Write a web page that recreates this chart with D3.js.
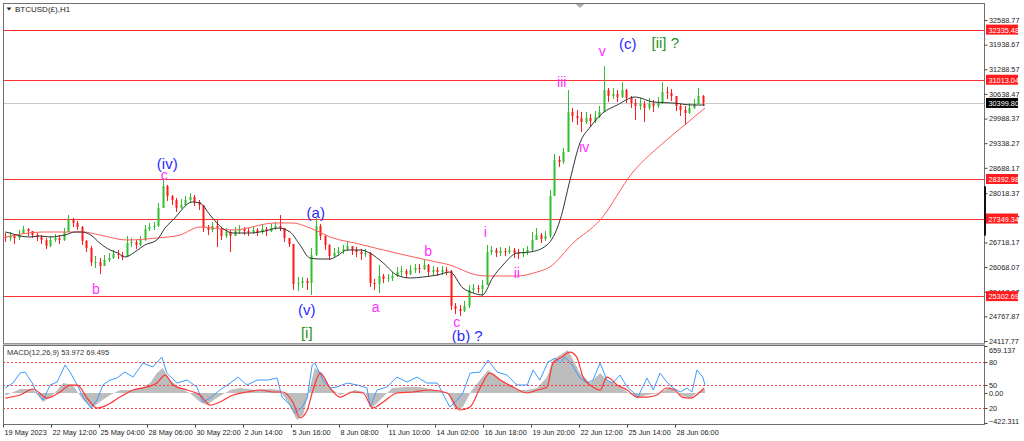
<!DOCTYPE html>
<html>
<head>
<meta charset="utf-8">
<script src="https://cdn.jsdelivr.net/npm/d3@7"></script>
<style>
  body { margin: 0; background: #fff; }
  svg { display: block; font-family: "Liberation Sans", Arial, sans-serif; }
</style>
</head>
<body>
<div id="chart"></div>
<script>
// 6-hour candles (open = previous close)
const closes = [
  26836, 26889, 26836, 26941, 27073, 27020, 26915, 26862, 26783, 26625,
  26783, 26836, 26783, 26994, 27311, 27232, 27126, 26757, 26572, 26202,
  26202, 26097, 26255, 26308, 26413, 26387, 26334, 26704, 26730, 26651,
  26783, 27073, 27126, 27152, 27627, 28208, 27944, 27839, 27627, 27707,
  27839, 27918, 27786, 27707, 27099, 27047, 27152, 27099, 26889, 26994,
  26889, 27020, 27073, 27020, 26994, 27047, 26994, 27073, 27020, 27099,
  27152, 27099, 26836, 26677, 25622, 25648, 25701, 25648, 26387, 27152,
  26889, 26651, 26360, 26440, 26493, 26545, 26625, 26519, 26466, 26413,
  26440, 25648, 25622, 25833, 25754, 25780, 25833, 25939, 25965, 25885,
  25991, 26044, 26018, 26123, 25939, 25991, 25939, 25991, 25965, 25041,
  24962, 24909, 25041, 25464, 25517, 25490, 25596, 26466, 26519, 26440,
  26493, 26466, 26519, 26440, 26413, 26466, 26519, 26783, 26915, 26810,
  26889, 27944, 28894, 28841, 29105, 30161, 30055, 30003, 29897, 30003,
  29923, 30029, 30161, 30742, 30583, 30636, 30557, 30742, 30530, 30398,
  30319, 30372, 30267, 30372, 30319, 30398, 30689, 30662, 30583, 30319,
  30214, 30135, 30267, 30372, 30583, 30400
];
const highs = [
  26968, 26994, 26941, 27047, 27152, 27099, 27020, 26968, 26915, 26836,
  26889, 26941, 26915, 27099, 27443, 27364, 27284, 27152, 26783, 26625,
  26360, 26308, 26387, 26440, 26519, 26519, 26466, 26889, 26836, 26783,
  26889, 27179, 27232, 27258, 27759, 28419, 28234, 27971, 27891, 27865,
  27944, 28023, 27971, 27839, 27707, 27179, 27258, 27311, 27099, 27099,
  27047, 27126, 27179, 27126, 27099, 27152, 27099, 27179, 27126, 27205,
  27258, 27443, 27099, 26836, 26677, 25806, 25806, 25780, 26572, 27364,
  27205, 26915, 26677, 26572, 26598, 26651, 26730, 26625, 26598, 26545,
  26545, 26466, 25754, 26123, 25885, 25885, 25939, 26070, 26097, 26018,
  26123, 26149, 26149, 26255, 26149, 26097, 26070, 26097, 26070, 25991,
  25120, 25067, 25173, 25596, 25622, 25596, 25727, 26651, 26625, 26572,
  26598, 26572, 26625, 26572, 26545, 26572, 26625, 26994, 27099, 26968,
  27020, 28102, 29052, 29000, 29211, 30742, 30266, 30214, 30161, 30161,
  30108, 30187, 30319, 31375, 30794, 30794, 30742, 30952, 30768, 30583,
  30504, 30530, 30451, 30530, 30478, 30557, 30952, 30821, 30768, 30583,
  30372, 30319, 30398, 30504, 30794, 30610
];
const lows = [
  26730, 26757, 26677, 26783, 26941, 26889, 26836, 26757, 26677, 26545,
  26598, 26730, 26677, 26757, 26994, 27126, 27047, 26651, 26466, 26097,
  26044, 25885, 26097, 26202, 26281, 26281, 26255, 26334, 26598, 26545,
  26625, 26757, 27020, 27047, 27126, 27627, 27812, 27707, 27522, 27601,
  27680, 27759, 27680, 27575, 26994, 26915, 26994, 26598, 26783, 26836,
  26466, 26889, 26941, 26915, 26889, 26941, 26889, 26941, 26889, 26994,
  27047, 27020, 26730, 26598, 25464, 25437, 25517, 25464, 25332, 26360,
  26783, 26519, 26255, 26308, 26360, 26413, 26493, 26387, 26334, 26255,
  26334, 25543, 25464, 25384, 25648, 25675, 25701, 25806, 25833, 25780,
  25859, 25912, 25912, 25991, 25833, 25859, 25833, 25859, 25859, 24936,
  24830, 24777, 24883, 24988, 25384, 25384, 25279, 25596, 26387, 26334,
  26360, 26360, 26413, 26308, 26281, 26334, 26387, 26466, 26783, 26704,
  26757, 26836, 27944, 28710, 28789, 29105, 29897, 29818, 29633, 29844,
  29765, 29871, 30003, 30161, 30425, 30504, 30425, 30530, 30398, 30267,
  29950, 30214, 29897, 30214, 30161, 30267, 30372, 30504, 30451, 30187,
  30055, 29818, 30108, 30240, 30425, 30319
];
const firstOpen = 26862;

// moving averages: [candle index, price]
const blackMA = [
  [0, 26994], [1, 26968], [3.3, 26889], [5.5, 26862], [7.7, 26889], [10, 26862], [12, 26889],
  [13.3, 26915], [15.5, 26994], [17, 26994], [19, 26915], [21, 26704], [23.3, 26519], [25, 26440],
  [26.6, 26334], [28.8, 26466], [31, 26651], [33.7, 26783], [35.5, 27099], [37.7, 27364],
  [38.8, 27522], [41.5, 27786], [43.3, 27759], [45.5, 27443], [48.2, 27099], [50.6, 26968],
  [54.4, 26968], [57.7, 27020], [60.6, 27099], [63.3, 26994], [65.5, 26651], [67.7, 26308],
  [70, 26281], [72.2, 26281], [73.7, 26360], [76, 26519], [79, 26519], [81, 26440], [84, 26176],
  [87, 25859], [90, 25780], [92.8, 25806], [96, 25859], [98.8, 25939], [101.7, 25517],
  [104, 25384], [106, 25332], [108.4, 25806], [110.6, 26123], [113.7, 26440], [116.6, 26466],
  [120.4, 26651], [123.3, 27311], [125.5, 28366], [127.7, 29343], [130, 29765], [132.8, 30135],
  [136, 30346], [140, 30557], [144, 30425], [148.4, 30398], [152.8, 30346], [155.5, 30346]
];
const redMA = [
  [0, 26862], [8.4, 26994], [17.3, 26994], [21, 26915], [27, 26783], [33.7, 26836], [38.8, 26915],
  [43.3, 27126], [50.6, 27047], [60, 27232], [63.7, 27232], [68.8, 27047], [72.8, 26836],
  [77.7, 26704], [84, 26519], [93.7, 26255], [98.8, 26123], [104.8, 25859], [107.7, 25833],
  [113.7, 25833], [118.2, 25939], [121, 26070], [126.2, 26704], [132.2, 27311], [139.5, 28577],
  [146.2, 29343], [151.5, 29871], [155.5, 30267]
];

// horizontal levels
const redLevels = [32335.48, 31013.04, 28392.98, 27349.34, 25302.69];
const bidPrice = 30399.80;
const priceTicks = [32588.77, 31938.67, 31288.57, 30638.47, 29988.37, 29338.27, 28688.17,
  28018.37, 27368.27, 26718.17, 26068.07, 25417.97, 24767.87, 24117.77];

// time axis: hours from first bar
const dateHours = [0, 64, 128, 192, 256, 320, 384, 448, 512, 576, 640, 704, 768, 832, 896];
const dateLabels = ['19 May 2023', '22 May 12:00', '25 May 04:00', '28 May 06:00', '30 May 22:00',
  '2 Jun 14:00', '5 Jun 16:00', '8 Jun 08:00', '11 Jun 10:00', '14 Jun 02:00', '16 Jun 18:00',
  '19 Jun 20:00', '22 Jun 12:00', '25 Jun 14:00', '28 Jun 06:00'];

// MACD panel: [candle index, value]
const macdHist = [
  [0, -40], [3.3, 55], [6.2, 55], [8.4, -128], [10.6, -30], [12.9, 139], [15, 111], [17.3, -100],
  [19.3, -212], [21, -128], [23.3, -30], [25.5, 41], [28.4, 41], [30.6, 83], [32.2, 139],
  [33.7, 279], [35, 350], [36.6, 181], [38.8, 69], [41, 0], [43.3, -128], [44.8, -170], [47, -72],
  [50, 41], [52.2, 69], [55.5, 41], [59, 55], [61, 41], [62.8, -128], [64.8, -380], [66.2, -310],
  [67.7, 83], [68.8, 350], [70.4, 279], [72.2, 69], [74.4, -30], [77.7, 41], [79.9, 13],
  [81.5, -212], [83.3, -100], [86, 69], [88.8, 83], [92.2, 83], [95.5, 41], [98.4, 0], [100, -240],
  [101.7, -198], [103.7, 41], [105.5, 181], [107.3, 322], [109.3, 209], [111.5, 139], [113.7, 41],
  [116, 41], [118.2, 69], [120.4, 223], [121.7, 462], [123.3, 532], [125, 602], [126.2, 462],
  [127.7, 279], [130, 139], [132.2, 279], [133.7, 181], [136, 111], [138.2, 13], [140.4, -72],
  [142.6, -30], [145.5, 0], [147.7, 83], [150, -30], [152.2, -72], [154, 13], [155.5, 54]
];
const macdSignal = [
  [0, -72], [3.3, -29], [6.2, 55], [9.3, -72], [12.2, 13], [14.4, 111], [16, 111], [18.2, -72],
  [20.4, -212], [22.6, -170], [25.5, -58], [28.4, 41], [31.5, 83], [33.7, 139], [35.5, 251],
  [37.3, 111], [40.4, 41], [43.3, -29], [45.5, -170], [47.7, -128], [50.6, -29], [53.7, 13],
  [56.6, 41], [59.5, 13], [61.7, 13], [64, -142], [65.5, -352], [67.1, -240], [68.4, 41],
  [70, 279], [72.2, 69], [74.4, -58], [77.3, 13], [79.5, -1], [81.7, -212], [84, -128], [87, -1],
  [90.6, 13], [94.4, 41], [98.2, -1], [101, -240], [103.3, -198], [105.5, 69], [107.7, 279],
  [110, 181], [112.8, 83], [116, -1], [118.2, 41], [120.4, 83], [121.7, 420], [123.7, 504],
  [125.5, 574], [127, 504], [128.4, 223], [130.6, 83], [132.2, 41], [133.7, 223], [136, 111],
  [138.2, 41], [140.4, -58], [142.6, -58], [144.8, -29], [147, 69], [148.8, 41], [150.4, -58],
  [152.2, -72], [154.4, 13], [155.3, 69]
];
const macdBlue = [
  [0, 69], [1.7, 139], [3.3, 279], [4.4, 293], [6, 139], [7, -1], [8.4, -100], [10, 111],
  [11.5, 153], [13.3, 392], [14.4, 293], [16, 111], [17.3, -58], [19, -212], [20.4, -100],
  [21.7, 111], [23.3, 181], [24.8, 209], [26.6, 293], [28.4, 223], [30.6, 420], [32.8, 364],
  [34.8, 504], [35.9, 279], [38.2, 139], [40.4, 181], [42.6, 83], [43.9, -128], [45.5, -72],
  [47.7, 41], [50, 139], [51.7, 223], [53.7, 111], [56, 181], [58.2, 181], [60.4, 209],
  [61.5, -58], [63.3, -170], [64.4, -282], [66, -198], [67.1, -72], [68.2, 392], [68.8, 420],
  [70.6, 181], [72.2, 69], [73.7, 83], [76, 139], [78.2, 111], [80.4, 69], [81.1, -198],
  [82.6, 41], [84.8, 83], [87, 223], [89.3, 153], [91.5, 223], [93.7, 139], [96, 139],
  [98.8, -198], [100.4, -100], [101.7, -1], [103.3, 279], [105.5, 293], [107.3, 462], [109.3, 293],
  [111.5, 251], [113.7, 111], [116, 111], [117.3, 322], [118.8, 181], [120.6, 434], [122.2, 490],
  [123.3, 420], [124.4, 504], [126, 392], [127.7, 209], [129.3, 139], [130.6, 181], [132.2, 420],
  [133.7, 181], [135, 139], [136.6, 251], [138.2, 83], [139.5, 13], [140.6, -58], [142.6, 209],
  [144, 41], [145.5, 279], [147, 153], [148.4, 69], [150, 13], [151.5, 69], [152.6, 13],
  [153.7, 322], [155, 223], [155.5, 111]
];
const macdLevels = [433, 111, -211];
const macdLevelLabels = ['80', '50', '20'];
const macdScaleTicks = [659.137, 0, -422.311];

// Elliott wave labels: [text, hour, price, kind]
const waveLabels = [
  ['(iv)', 219, 28815, 'blue'], ['c', 215, 28498, 'pink'], ['b', 124, 25490, 'pink'],
  ['(a)', 417, 27522, 'blue'], ['(v)', 405, 24936, 'blue'], ['[i]', 405, 24355, 'green'],
  ['a', 497, 25015, 'pink'], ['b', 567, 26493, 'pink'], ['c', 605, 24610, 'pink'],
  ['(b) ?', 619, 24275, 'blue'], ['i', 643, 26994, 'pink'], ['ii', 685, 25912, 'pink'],
  ['iii', 745, 30953, 'pink'], ['iv', 775, 29237, 'pink'], ['v', 799, 31771, 'pink'],
  ['(c)', 833, 31956, 'blue'], ['[ii] ?', 883, 32008, 'green']
];

const width = 1024;
const height = 441;
const left = 3, right = 984;
const priceTop = 3, priceBottom = 343;
const macdTop = 345, macdBottom = 424;

const svg = d3.select('#chart')
  .append('svg')
    .attr('width', width)
    .attr('height', height);

const x = d3.scaleLinear().domain([0, 1308]).range([left, right]);
const candleX = j => x(6 * j + 3);
const y = d3.scaleLinear().domain([24117.77, 32588.77]).range([341, 20]);
const ym = d3.scaleLinear().domain([-422.311, 659.137]).range([423, 346]);

const defs = svg.append('defs');
defs.append('clipPath').attr('id', 'clipPrice')
  .append('rect').attr('x', left).attr('y', priceTop).attr('width', right - left).attr('height', priceBottom - priceTop);
defs.append('clipPath').attr('id', 'clipMacd')
  .append('rect').attr('x', left).attr('y', macdTop).attr('width', right - left).attr('height', macdBottom - macdTop);

// ---- price panel ----
const price = svg.append('g').attr('clip-path', 'url(#clipPrice)');

// bid line
price.append('line')
  .attr('x1', left).attr('x2', right)
  .attr('y1', Math.round(y(bidPrice)) + 0.5).attr('y2', Math.round(y(bidPrice)) + 0.5)
  .attr('stroke', '#c8c8c8').attr('stroke-width', 1);

// red horizontal levels
price.selectAll('line.level')
  .data(redLevels)
  .join('line')
    .attr('class', 'level')
    .attr('x1', left).attr('x2', right)
    .attr('y1', d => Math.round(y(d)) + 0.5).attr('y2', d => Math.round(y(d)) + 0.5)
    .attr('stroke', '#ff3030').attr('stroke-width', 1);

// candles
const candles = closes.map((c, j) => {
  const o = j ? closes[j - 1] : firstOpen;
  return { j, o, c, h: Math.max(highs[j], o, c), l: Math.min(lows[j], o, c) };
});
const up = '#2fbf2f', down = '#ff1a1a';

price.selectAll('line.wick')
  .data(candles)
  .join('line')
    .attr('class', 'wick')
    .attr('x1', d => Math.round(candleX(d.j)) + 0.5)
    .attr('x2', d => Math.round(candleX(d.j)) + 0.5)
    .attr('y1', d => y(d.h))
    .attr('y2', d => y(d.l))
    .attr('stroke', d => d.c >= d.o ? up : down)
    .attr('stroke-width', 1);

price.selectAll('rect.body')
  .data(candles)
  .join('rect')
    .attr('class', 'body')
    .attr('x', d => Math.round(candleX(d.j)) - 0.5)
    .attr('width', 2)
    .attr('y', d => y(Math.max(d.o, d.c)))
    .attr('height', d => Math.max(1, Math.abs(y(d.o) - y(d.c))))
    .attr('fill', d => d.c >= d.o ? up : down);

// moving averages
const maLine = d3.line()
  .x(d => candleX(d[0]))
  .y(d => y(d[1]))
  .curve(d3.curveMonotoneX);

price.append('path')
  .attr('d', maLine(redMA))
  .attr('fill', 'none').attr('stroke', '#ff5a5a').attr('stroke-width', 1);
price.append('path')
  .attr('d', maLine(blackMA))
  .attr('fill', 'none').attr('stroke', '#333').attr('stroke-width', 1);

// wave labels
const labelColor = { blue: '#2a2aff', pink: '#ff30ff', green: '#1f8f1f' };
svg.append('g')
  .selectAll('text')
  .data(waveLabels)
  .join('text')
    .attr('x', d => x(d[1]))
    .attr('y', d => y(d[2]))
    .attr('text-anchor', 'middle')
    .attr('dominant-baseline', 'central')
    .attr('font-size', d => d[3] === 'pink' ? 14 : 15)
    .attr('fill', d => labelColor[d[3]])
    .text(d => d[0]);

// title
svg.append('path')
  .attr('d', 'M6.5,7.5 L11.5,7.5 L9,10.5 Z')
  .attr('fill', '#222');
svg.append('text')
  .attr('x', 15).attr('y', 12)
  .attr('font-size', 8).attr('fill', '#222')
  .text('BTCUSD(£),H1');

// shift marker at top
svg.append('path')
  .attr('d', 'M575,3.5 L585,3.5 L580,8 Z')
  .attr('fill', '#b0b0b0');

// ---- MACD panel ----
const macd = svg.append('g').attr('clip-path', 'url(#clipMacd)');

macd.append('path')
  .attr('d', d3.area()
    .x(d => candleX(d[0]))
    .y0(ym(0))
    .y1(d => ym(d[1]))(macdHist))
  .attr('fill', '#bdbdbd');

macd.selectAll('line.mlevel')
  .data(macdLevels)
  .join('line')
    .attr('class', 'mlevel')
    .attr('x1', left).attr('x2', right)
    .attr('y1', d => Math.round(ym(d)) + 0.5).attr('y2', d => Math.round(ym(d)) + 0.5)
    .attr('stroke', '#ff4040').attr('stroke-width', 1)
    .attr('stroke-dasharray', '2,2');

macd.append('path')
  .attr('d', d3.line().x(d => candleX(d[0])).y(d => ym(d[1]))(macdBlue))
  .attr('fill', 'none').attr('stroke', '#3d9bff').attr('stroke-width', 1);

macd.append('path')
  .attr('d', d3.line().x(d => candleX(d[0])).y(d => ym(d[1])).curve(d3.curveMonotoneX)(macdSignal))
  .attr('fill', 'none').attr('stroke', '#ff3535').attr('stroke-width', 1.2);

svg.append('text')
  .attr('x', 7).attr('y', 355)
  .attr('font-size', 7.5).attr('fill', '#333')
  .text('MACD(12,26,9) 53.972 69.495');

// ---- frames ----
svg.append('rect')
  .attr('x', left + 0.5).attr('y', priceTop + 0.5)
  .attr('width', right - left).attr('height', priceBottom - priceTop)
  .attr('fill', 'none').attr('stroke', '#707070');
svg.append('rect')
  .attr('x', left).attr('y', priceBottom + 0.5)
  .attr('width', right - left + 1).attr('height', 1.5)
  .attr('fill', '#c0c0c0');
svg.append('rect')
  .attr('x', left + 0.5).attr('y', macdTop + 0.5)
  .attr('width', right - left).attr('height', macdBottom - macdTop)
  .attr('fill', 'none').attr('stroke', '#707070');

// ---- axes ----
const axisFont = g => g.selectAll('text').attr('font-size', 7.3).attr('fill', '#222')
  .attr('font-family', '"Liberation Sans", Arial, sans-serif');

svg.append('g')
    .attr('transform', `translate(${right + 0.5}, 0)`)
    .call(d3.axisRight(y).tickValues(priceTicks).tickSize(3).tickPadding(1.5).tickFormat(d3.format('.2f')))
    .call(g => g.select('.domain').remove())
    .call(g => g.selectAll('line').attr('stroke', '#444'))
    .call(axisFont);

svg.append('g')
    .attr('transform', `translate(${right + 0.5}, 0)`)
    .call(d3.axisRight(ym).tickValues(macdScaleTicks).tickSize(3).tickPadding(1.5)
      .tickFormat(d => d === 0 ? '0.00' : d3.format('.3f')(d)))
    .call(g => g.select('.domain').remove())
    .call(g => g.selectAll('line').attr('stroke', '#444'))
    .call(g => g.selectAll('.tick text').attr('dy', (d, i) => i === 0 ? '0.9em' : (i === 2 ? '0.1em' : '0.32em')))
    .call(axisFont);

svg.append('g')
    .attr('transform', `translate(${right + 0.5}, 0)`)
    .call(d3.axisRight(ym).tickValues(macdLevels).tickSize(3).tickPadding(1.5)
      .tickFormat((d, i) => macdLevelLabels[i]))
    .call(g => g.select('.domain').remove())
    .call(g => g.selectAll('line').attr('stroke', '#444'))
    .call(axisFont);

// price boxes on the axis
const boxes = redLevels.map(v => ({ v, fill: '#ff1c1c' })).concat([{ v: bidPrice, fill: '#000' }]);
const boxG = svg.append('g').selectAll('g')
  .data(boxes)
  .join('g')
    .attr('transform', d => `translate(${right + 2}, ${y(d.v)})`);
boxG.append('rect')
  .attr('x', 0).attr('y', -5).attr('width', 32).attr('height', 10)
  .attr('fill', d => d.fill);
boxG.append('text')
  .attr('x', 2.5).attr('y', 0.5)
  .attr('dominant-baseline', 'central')
  .attr('font-size', 7.3).attr('fill', '#fff')
  .text(d => d3.format('.2f')(d.v));

// scroll marker on the price scale
svg.append('rect')
  .attr('x', right).attr('y', y(28200)).attr('width', 2).attr('height', y(26900) - y(28200))
  .attr('fill', '#111');

// date axis
svg.append('g')
    .attr('transform', `translate(0, ${macdBottom + 0.5})`)
    .call(d3.axisBottom(x).tickValues(dateHours).tickSize(3).tickPadding(2)
      .tickFormat((d, i) => dateLabels[i]))
    .call(g => g.select('.domain').remove())
    .call(g => g.selectAll('line').attr('stroke', '#444'))
    .call(g => g.selectAll('text').attr('text-anchor', 'start').attr('dx', 1))
    .call(axisFont);
</script>
</body>
</html>
